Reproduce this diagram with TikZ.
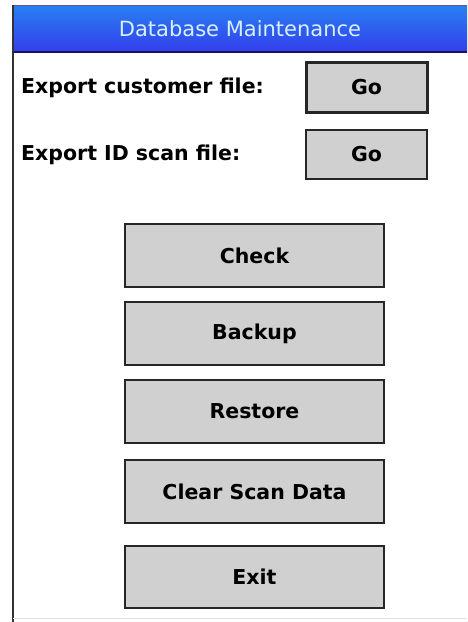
\documentclass[tikz,border=0pt]{standalone}
\usepackage{fontspec}
\setmainfont{DejaVu Sans}
\definecolor{btnfill}{RGB}{208,208,208}
\definecolor{barTop}{RGB}{40,128,242}
\definecolor{barBot}{RGB}{52,62,236}
\definecolor{barEdge}{RGB}{20,20,90}
\definecolor{titletext}{RGB}{215,240,255}
\begin{document}
\begin{tikzpicture}[x=1pt,y=-1pt,
  btn/.style={draw=black!85, line width=1.4pt, fill=btnfill, inner sep=0pt,
    font=\fontsize{20.5}{24}\selectfont\bfseries},
  focusbtn/.style={btn, line width=3pt},
  lbl/.style={anchor=west, inner sep=0pt, font=\fontsize{20.5}{24}\selectfont\bfseries}]
\useasboundingbox (0,0) rectangle (467,622);
\fill[white] (0,0) rectangle (467,622);
% title bar
\shade[top color=barTop, bottom color=barBot] (12,5) rectangle (467,52);
\draw[barEdge, line width=1.5pt] (12,52) -- (467,52);
\draw[barEdge!70, line width=0.8pt] (12,5.4) -- (467,5.4);
\node[text=titletext, font=\fontsize{21}{24}\selectfont, inner sep=0pt] (title) at (240,29) {Database Maintenance};
% left border and bottom line
\draw[black!80, line width=2pt] (13,5) -- (13,622);
\draw[black!12, line width=1pt] (13,618) -- (467,618);
% export rows
\node[lbl] (lab1) at (21,88) {Export customer file:};
\node[focusbtn, minimum width=121pt, minimum height=50pt] (go1) at (366.5,87) {Go};
\node[lbl] (lab2) at (21,155) {Export ID scan file:};
\node[btn, minimum width=121pt, minimum height=49pt] (go2) at (366.5,154.5) {Go};
% main buttons
\node[btn, minimum width=259pt, minimum height=63pt] (check) at (254.5,255.5) {Check};
\node[btn, minimum width=259pt, minimum height=63pt] (backup) at (254.5,333.5) {Backup};
\node[btn, minimum width=259pt, minimum height=63pt] (restore) at (254.5,411.5) {Restore};
\node[btn, minimum width=259pt, minimum height=63pt] (clear) at (254.5,491.5) {Clear Scan Data};
\node[btn, minimum width=259pt, minimum height=62pt] (exit) at (254.5,577) {Exit};
\end{tikzpicture}
\end{document}
